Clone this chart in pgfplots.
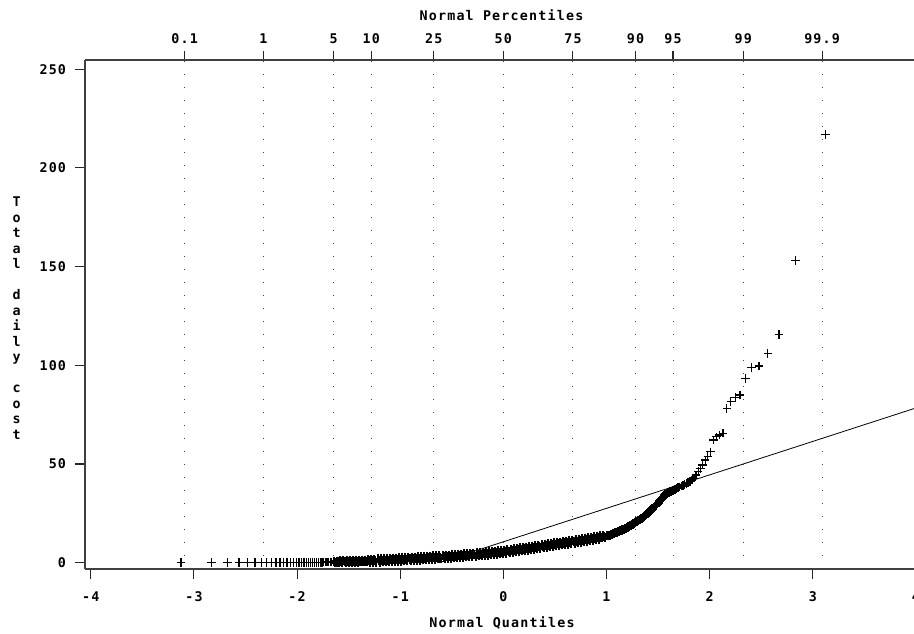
\documentclass[border=0pt]{standalone}
\usepackage{fontspec}
\usepackage{pgfplots}
\pgfplotsset{compat=1.18}
\newfontfamily\sasfont{DejaVu Sans Mono}[LetterSpace=9]
\newcommand\sasf{\sasfont\bfseries\fontsize{10}{11.625}\selectfont}

\begin{document}
\begin{tikzpicture}
\useasboundingbox (0,0) rectangle (685.5pt,475.5pt);
\pgfplotsset{
  sasbase/.style={
    at={(63.75pt,48.75pt)}, anchor=south west,
    scale only axis, width=623.2pt, height=381.75pt,
    xmin=-4.056, xmax=4.0, ymin=-3.19, ymax=254.7,
    tick align=outside,
    tick style={black!85, line width=0.8pt},
    axis line style={-, black!75, line width=0.9pt},
    ticklabel style={font=\sasf},
  },
  qqmark/.style={only marks, mark=+, mark size=3.2pt, mark options={black, line width=1pt}},
  qqband/.style={only marks, mark=+, mark size=3.4pt, mark options={black, line width=1.5pt}},
}
% top percentile axis with dotted grid
\begin{axis}[sasbase,
  axis x line*=top, axis y line=none,
  xtick={-3.0902,-2.3263,-1.6449,-1.2816,-0.6745,0,0.6745,1.2816,1.6449,2.3263,3.0902},
  xticklabels={0.1,1,5,10,25,50,75,90,95,99,99.9},
  xticklabel style={yshift=2.2pt},
  major tick length=6.6pt,
  xmajorgrids,
  grid style={black!75, line width=0.75pt, dash pattern=on 0.75pt off 9pt},
  ytick=\empty,
]
\addplot[draw=none] coordinates {(0,0)};
\end{axis}
% main axis
\begin{axis}[sasbase,
  axis x line*=bottom, axis y line*=left,
  xtick={-4,-3,-2,-1,0,1,2,3,4},
  xticklabels={-4,-3,-2,-1,0,1,2,3,4},
  xticklabel style={yshift=-6pt},
  ytick={0,50,100,150,200,250},
  yticklabels={0,50,100,150,200,250},
  yticklabel style={xshift=-3.5pt},
  major tick length=7.2pt,
  clip=true,
]
% fitted reference line
\addplot[black, line width=0.6pt] coordinates {(-0.625,0) (4.0,78.4)};
% lower tail
\addplot[qqmark] coordinates {
(-3.124,0.0) (-2.831,0.0) (-2.673,0.0) (-2.564,0.0) (-2.478,0.0) (-2.408,0.0) (-2.348,0.0)
(-2.294,0.0) (-2.248,0.0) (-2.205,0.0) (-2.166,0.1) (-2.130,0.1) (-2.097,0.1) (-2.066,0.1)
(-2.036,0.1) (-2.008,0.1) (-1.982,0.1) (-1.957,0.1) (-1.933,0.1) (-1.911,0.2) (-1.889,0.2)
(-1.868,0.2) (-1.848,0.2) (-1.828,0.2) (-1.810,0.2) (-1.791,0.2) (-1.774,0.2) (-1.757,0.2)
(-1.741,0.3) (-1.725,0.3) (-1.710,0.3) (-1.694,0.3) (-1.679,0.3) (-1.665,0.3) (-1.650,0.3)
};
% dense central band
\addplot[qqband] coordinates {
(-1.64,0.81) (-1.63,0.32) (-1.62,0.03) (-1.61,0.84) (-1.60,0.35) (-1.59,0.06) (-1.58,0.87)
(-1.57,0.38) (-1.56,0.09) (-1.55,0.90) (-1.54,0.41) (-1.53,0.12) (-1.52,0.93) (-1.51,0.44)
(-1.50,0.15) (-1.49,0.97) (-1.48,0.50) (-1.47,0.22) (-1.46,1.04) (-1.45,0.56) (-1.44,0.29)
(-1.43,1.11) (-1.42,0.63) (-1.41,0.35) (-1.40,1.18) (-1.39,0.70) (-1.38,0.42) (-1.37,1.24)
(-1.36,0.77) (-1.35,0.49) (-1.34,1.31) (-1.33,0.83) (-1.32,0.56) (-1.31,1.38) (-1.30,0.90)
(-1.29,0.12) (-1.28,1.75) (-1.27,0.97) (-1.26,0.19) (-1.25,1.82) (-1.24,1.04) (-1.23,0.26)
(-1.22,1.89) (-1.21,1.11) (-1.20,0.33) (-1.19,1.96) (-1.18,1.18) (-1.17,0.40) (-1.16,2.03)
(-1.15,1.25) (-1.14,0.47) (-1.13,2.10) (-1.12,1.32) (-1.11,0.54) (-1.10,2.17) (-1.09,1.39)
(-1.08,0.61) (-1.07,2.24) (-1.06,1.46) (-1.05,0.68) (-1.04,2.31) (-1.03,1.53) (-1.02,0.75)
(-1.01,2.38) (-1.00,1.60) (-0.99,0.83) (-0.98,2.46) (-0.97,1.69) (-0.96,0.92) (-0.95,2.55)
(-0.94,1.78) (-0.93,1.01) (-0.92,2.64) (-0.91,1.87) (-0.90,1.10) (-0.89,2.73) (-0.88,1.96)
(-0.87,1.19) (-0.86,2.82) (-0.85,2.05) (-0.84,1.28) (-0.83,2.91) (-0.82,2.14) (-0.81,1.37)
(-0.80,3.00) (-0.79,2.23) (-0.78,1.46) (-0.77,3.10) (-0.76,2.33) (-0.75,1.56) (-0.74,3.19)
(-0.73,2.42) (-0.72,1.66) (-0.71,3.29) (-0.70,2.52) (-0.69,1.75) (-0.68,3.38) (-0.67,2.62)
(-0.66,1.85) (-0.65,3.48) (-0.64,2.71) (-0.63,1.94) (-0.62,3.58) (-0.61,2.81) (-0.60,2.04)
(-0.59,3.67) (-0.58,2.90) (-0.57,2.14) (-0.56,3.77) (-0.55,3.00) (-0.54,2.24) (-0.53,3.88)
(-0.52,3.12) (-0.51,2.36) (-0.50,4.00) (-0.49,3.24) (-0.48,2.48) (-0.47,4.12) (-0.46,3.36)
(-0.45,2.60) (-0.44,4.24) (-0.43,3.48) (-0.42,2.72) (-0.41,4.36) (-0.40,3.60) (-0.39,2.84)
(-0.38,4.48) (-0.37,3.72) (-0.36,2.96) (-0.35,4.60) (-0.34,3.84) (-0.33,3.08) (-0.32,4.72)
(-0.31,3.96) (-0.30,3.20) (-0.29,4.85) (-0.28,4.09) (-0.27,3.34) (-0.26,4.99) (-0.25,4.23)
(-0.24,3.48) (-0.23,5.13) (-0.22,4.37) (-0.21,3.62) (-0.20,5.27) (-0.19,4.51) (-0.18,3.76)
(-0.17,5.41) (-0.16,4.65) (-0.15,3.90) (-0.14,5.55) (-0.13,4.79) (-0.12,4.04) (-0.11,5.69)
(-0.10,4.93) (-0.09,4.18) (-0.08,5.83) (-0.07,5.07) (-0.06,4.32) (-0.05,5.97) (-0.04,5.21)
(-0.03,4.46) (-0.02,6.11) (-0.01,5.35) (0.00,4.60) (0.01,6.28) (0.02,5.55) (0.03,4.83)
(0.04,6.51) (0.05,5.78) (0.06,5.06) (0.07,6.74) (0.08,6.01) (0.09,5.29) (0.10,6.97)
(0.11,6.24) (0.12,5.52) (0.13,7.20) (0.14,6.47) (0.15,5.75) (0.16,7.43) (0.17,6.70)
(0.18,5.98) (0.19,7.66) (0.20,6.93) (0.21,6.21) (0.22,7.89) (0.23,7.16) (0.24,6.44)
(0.25,8.12) (0.26,7.39) (0.27,6.67) (0.28,8.35) (0.29,7.62) (0.30,6.90) (0.31,8.58)
(0.32,7.86) (0.33,7.13) (0.34,8.81) (0.35,8.09) (0.36,7.37) (0.37,9.05) (0.38,8.33)
(0.39,7.60) (0.40,9.28) (0.41,8.56) (0.42,7.84) (0.43,9.52) (0.44,8.79) (0.45,8.07)
(0.46,9.75) (0.47,9.03) (0.48,8.31) (0.49,9.98) (0.50,9.26) (0.51,8.54) (0.52,10.22)
(0.53,9.50) (0.54,8.78) (0.55,10.45) (0.56,9.73) (0.57,9.01) (0.58,10.69) (0.59,9.97)
(0.60,9.24) (0.61,10.92) (0.62,10.20) (0.63,9.48) (0.64,11.16) (0.65,10.44) (0.66,9.73)
(0.67,11.41) (0.68,10.69) (0.69,9.97) (0.70,11.65) (0.71,10.93) (0.72,10.21) (0.73,11.89)
(0.74,11.18) (0.75,10.46) (0.76,12.14) (0.77,11.42) (0.78,10.70) (0.79,12.38) (0.80,11.66)
(0.81,10.94) (0.82,12.63) (0.83,11.91) (0.84,11.19) (0.85,12.87) (0.86,12.15) (0.87,11.43)
(0.88,13.11) (0.89,12.39) (0.90,11.68) (0.91,13.36) (0.92,12.64) (0.93,11.92) (0.94,13.60)
(0.95,12.93) (0.96,12.55) (0.97,13.68) (0.98,13.30) (0.99,12.93) (1.00,13.55) (1.01,13.68)
(1.02,13.80) (1.03,14.01) (1.04,14.23) (1.05,14.44) (1.06,14.65) (1.07,14.86) (1.08,15.08)
(1.09,15.29) (1.10,15.50) (1.11,15.71) (1.12,15.93) (1.13,16.14) (1.14,16.35) (1.15,16.56)
(1.16,16.78) (1.17,16.99) (1.18,17.20) (1.19,17.50) (1.20,17.80) (1.21,18.10) (1.22,18.40)
(1.23,18.70) (1.24,19.00) (1.25,19.30) (1.26,19.60) (1.27,19.97) (1.28,20.34) (1.29,20.71)
(1.30,21.08) (1.31,21.45) (1.32,21.82) (1.33,22.19) (1.34,22.56) (1.35,22.93) (1.36,23.30)
(1.37,23.77) (1.38,24.24) (1.39,24.71) (1.40,25.18) (1.41,25.65) (1.42,26.12) (1.43,26.59)
(1.44,27.06) (1.45,27.53) (1.46,28.00) (1.47,28.61) (1.48,29.22) (1.49,29.83) (1.50,30.44)
(1.51,31.06) (1.52,31.67) (1.53,32.28) (1.54,32.89) (1.55,33.50) (1.56,33.90) (1.57,34.30)
(1.58,34.70) (1.59,35.10) (1.60,35.50) (1.61,35.76) (1.62,36.02) (1.63,36.28) (1.64,36.54)
};
% upper tail
\addplot[qqmark] coordinates {
(1.650,36.8) (1.665,37.2) (1.679,37.6) (1.694,38.0) (1.710,38.4) (1.725,38.8) (1.741,39.2)
(1.757,39.6) (1.774,40.1) (1.791,40.6) (1.810,41.2) (1.828,41.9) (1.848,42.8) (1.868,44.4)
(1.889,46.1) (1.911,47.8) (1.933,49.5) (1.957,52.0) (1.982,53.7) (2.008,56.2) (2.036,62.2)
(2.066,63.8) (2.097,64.7) (2.130,65.6) (2.166,78.2) (2.205,81.6) (2.248,83.6) (2.294,85.0)
(2.348,93.4) (2.408,98.8) (2.478,99.7) (2.564,106.0) (2.673,115.7) (2.831,153.0) (3.124,217.0)
};
\end{axis}
\node[font=\sasf] at (376.5pt,8.25pt) {Normal Quantiles};
\node[font=\sasf] at (376.1pt,464.25pt) {Normal Percentiles};
\node[font=\sasf, align=center, inner sep=0pt] at (12.5pt,237pt)
  {T\\o\\t\\a\\l\\\mbox{}\\d\\a\\i\\l\\y\\\mbox{}\\c\\o\\s\\t};
\end{tikzpicture}
\end{document}
